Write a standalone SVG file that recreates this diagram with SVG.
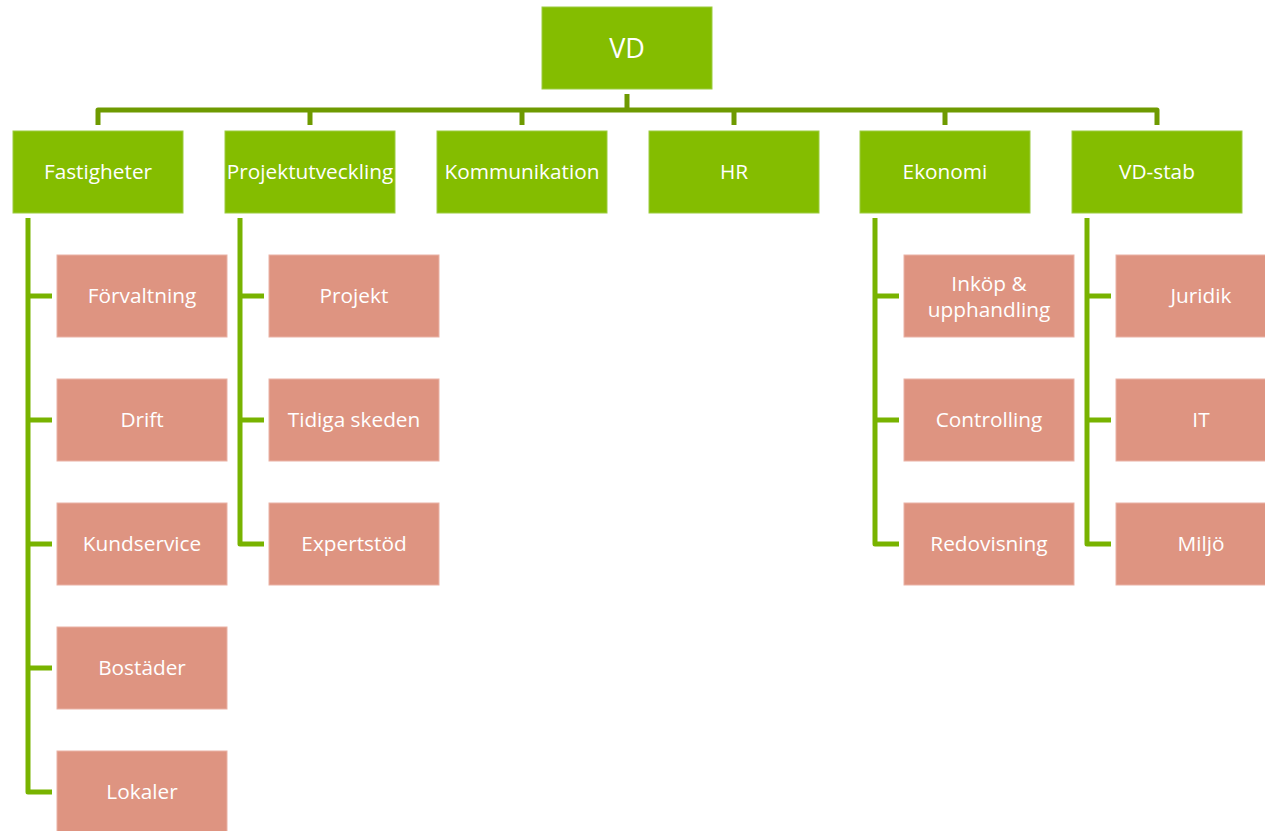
<svg xmlns="http://www.w3.org/2000/svg" width="1265" height="831" viewBox="0 0 1265 831">
<style>
.l1 rect{fill:#84bd00;stroke:#9ccc40;stroke-width:1}
.l2 rect{fill:#de9481;stroke:#eab2a5;stroke-width:1}
text{font-family:"Open Sans","Noto Sans","Liberation Sans",sans-serif;fill:#ffffff;text-anchor:middle;dominant-baseline:central;font-size:20.8px}
.vd text{font-size:27px}
.top{fill:none;stroke:#6e9a00;stroke-width:5;stroke-linejoin:round}
.sub{fill:none;stroke:#78b300;stroke-width:5;stroke-linejoin:round}
</style>
<g id="connectors">
<path class="top" d="M627 94V110M98 125V110H1157V125M310 110V125M522 110V125M734 110V125M945 110V125"/>
<path class="sub" d="M28 218V792H52M28 296H52M28 420H52M28 544H52M28 668H52"/>
<path class="sub" d="M240 218V544H264M240 296H264M240 420H264"/>
<path class="sub" d="M875 218V544H899M875 296H899M875 420H899"/>
<path class="sub" d="M1087 218V544H1111M1087 296H1111M1087 420H1111"/>
</g>
<g id="vd" class="l1 vd"><rect x="542" y="7" width="170" height="82"/><text x="627" y="47">VD</text></g>
<g id="fastigheter" class="l1"><rect x="13" y="131" width="170" height="82"/><text x="98" y="171">Fastigheter</text></g>
<g id="projektutveckling" class="l1"><rect x="225" y="131" width="170" height="82"/><text x="310" y="171">Projektutveckling</text></g>
<g id="kommunikation" class="l1"><rect x="437" y="131" width="170" height="82"/><text x="522" y="171">Kommunikation</text></g>
<g id="hr" class="l1"><rect x="649" y="131" width="170" height="82"/><text x="734" y="171">HR</text></g>
<g id="ekonomi" class="l1"><rect x="860" y="131" width="170" height="82"/><text x="945" y="171">Ekonomi</text></g>
<g id="vdstab" class="l1"><rect x="1072" y="131" width="170" height="82"/><text x="1157" y="171">VD-stab</text></g>
<g id="forvaltning" class="l2"><rect x="57" y="255" width="170" height="82"/><text x="142" y="295">Förvaltning</text></g>
<g id="drift" class="l2"><rect x="57" y="379" width="170" height="82"/><text x="142" y="419">Drift</text></g>
<g id="kundservice" class="l2"><rect x="57" y="503" width="170" height="82"/><text x="142" y="543">Kundservice</text></g>
<g id="bostader" class="l2"><rect x="57" y="627" width="170" height="82"/><text x="142" y="667">Bostäder</text></g>
<g id="lokaler" class="l2"><rect x="57" y="751" width="170" height="82"/><text x="142" y="791">Lokaler</text></g>
<g id="projekt" class="l2"><rect x="269" y="255" width="170" height="82"/><text x="354" y="295">Projekt</text></g>
<g id="tidiga" class="l2"><rect x="269" y="379" width="170" height="82"/><text x="354" y="419">Tidiga skeden</text></g>
<g id="expertstod" class="l2"><rect x="269" y="503" width="170" height="82"/><text x="354" y="543">Expertstöd</text></g>
<g id="inkop" class="l2"><rect x="904" y="255" width="170" height="82"/><text x="989" y="283">Inköp &amp;</text><text x="989" y="309">upphandling</text></g>
<g id="controlling" class="l2"><rect x="904" y="379" width="170" height="82"/><text x="989" y="419">Controlling</text></g>
<g id="redovisning" class="l2"><rect x="904" y="503" width="170" height="82"/><text x="989" y="543">Redovisning</text></g>
<g id="juridik" class="l2"><rect x="1116" y="255" width="170" height="82"/><text x="1201" y="295">Juridik</text></g>
<g id="it" class="l2"><rect x="1116" y="379" width="170" height="82"/><text x="1201" y="419">IT</text></g>
<g id="miljo" class="l2"><rect x="1116" y="503" width="170" height="82"/><text x="1201" y="543">Miljö</text></g>
</svg>
